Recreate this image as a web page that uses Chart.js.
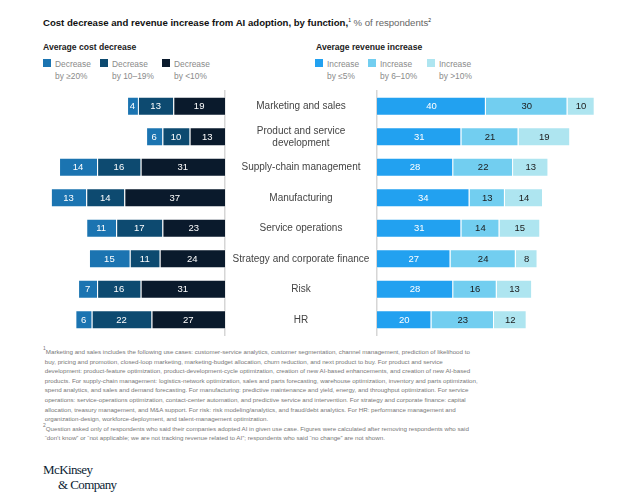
<!DOCTYPE html>
<html>
<head>
<meta charset="utf-8">
<script src="https://cdn.jsdelivr.net/npm/chart.js@4.4.0/dist/chart.umd.min.js"></script>
<style>
  body { margin: 0; width: 628px; height: 499px; background: #fff; position: relative; overflow: hidden;
         font-family: "Liberation Sans", Arial, sans-serif; color: #222; }
  .abs { position: absolute; }
  #title { left: 43px; top: 17px; font-size: 9.6px; white-space: nowrap; }
  #title b { color: #111; }
  #title span { color: #666; }
  sup { font-size: 5px; vertical-align: 4px; line-height: 0; }
  .head { top: 42px; font-size: 8.6px; font-weight: bold; color: #222; white-space: nowrap; }
  .leg { top: 58px; font-size: 8.4px; line-height: 12px; color: #8a8a8a; }
  .leg i { position: absolute; left: 0; top: 1px; width: 8px; height: 8px; }
  .leg div { margin-left: 12px; }
  #notes { left: 43px; top: 347px; font-size: 6.2px; line-height: 9.6px; color: #777; white-space: nowrap; }
  #logo { left: 43px; top: 462px; font-family: "Liberation Serif", "DejaVu Serif", serif; color: #0b1d33;
          font-size: 13px; line-height: 15px; letter-spacing: -0.6px; }
</style>
</head>
<body>
<div id="title" class="abs"><b>Cost decrease and revenue increase from AI adoption, by function,</b><sup>1</sup><span> % of respondents</span><sup>2</sup></div>
<div class="abs head" style="left:43px">Average cost decrease</div>
<div class="abs head" style="left:316px">Average revenue increase</div>
<div id="legends"></div>

<div class="abs" style="left:40px; top:86px; width:337px; height:254px;"><canvas id="costChart"></canvas></div>
<div class="abs" style="left:370px; top:86px; width:250px; height:254px;"><canvas id="revChart"></canvas></div>

<div id="notes" class="abs">
<sup>1</sup>Marketing and sales includes the following use cases: customer-service analytics, customer segmentation, channel management, prediction of likelihood to<br>
&nbsp;buy, pricing and promotion, closed-loop marketing, marketing-budget allocation, churn reduction, and next product to buy. For product and service<br>
&nbsp;development: product-feature optimization, product-development-cycle optimization, creation of new AI-based enhancements, and creation of new AI-based<br>
&nbsp;products. For supply-chain management: logistics-network optimization, sales and parts forecasting, warehouse optimization, inventory and parts optimization,<br>
&nbsp;spend analytics, and sales and demand forecasting. For manufacturing: predictive maintenance and yield, energy, and throughput optimization. For service<br>
&nbsp;operations: service-operations optimization, contact-center automation, and predictive service and intervention. For strategy and corporate finance: capital<br>
&nbsp;allocation, treasury management, and M&amp;A support. For risk: risk modeling/analytics, and fraud/debt analytics. For HR: performance management and<br>
&nbsp;organization-design, workforce-deployment, and talent-management optimization.<br>
<sup>2</sup>Question asked only of respondents who said their companies adopted AI in given use case. Figures were calculated after removing respondents who said<br>
&nbsp;“don’t know” or “not applicable; we are not tracking revenue related to AI”; respondents who said “no change” are not shown.
</div>
<div id="logo" class="abs">McKinsey<br><span style="margin-left:15px">&amp; Company</span></div>

<script>
// functions (category axis), multi-line where the picture wraps
const functions = [
    ['Marketing and sales'],
    ['Product and service', 'development'],
    ['Supply-chain management'],
    ['Manufacturing'],
    ['Service operations'],
    ['Strategy and corporate finance'],
    ['Risk'],
    ['HR']
];

// average cost decrease, % of respondents
const costAtLeast20 = [4, 6, 14, 13, 11, 15, 7, 6];
const cost10to19 = [13, 10, 16, 14, 17, 11, 16, 22];
const costUnder10 = [19, 13, 31, 37, 23, 24, 31, 27];

// average revenue increase, % of respondents
const revUpTo5 = [40, 31, 28, 34, 31, 27, 28, 20];
const rev6to10 = [30, 21, 22, 13, 14, 24, 16, 23];
const revOver10 = [10, 19, 13, 14, 15, 8, 13, 12];

const costNames = [['Decrease', 'by ≥20%'], ['Decrease', 'by 10–19%'], ['Decrease', 'by <10%']];
const revNames = [['Increase', 'by ≤5%'], ['Increase', 'by 6–10%'], ['Increase', 'by >10%']];

const costColors = ['#1b74b1', '#0d4a70', '#0a1a2c'];
const revColors = ['#22a1f0', '#72cef0', '#aee5f0'];

const FONT = '"Liberation Sans", Arial, sans-serif';

// legends (html, two lines each)
function addLegend(names, colors, xs) {
    const holder = document.getElementById('legends');
    names.forEach((n, i) => {
        const d = document.createElement('div');
        d.className = 'abs leg';
        d.style.left = xs[i] + 'px';
        d.innerHTML = '<i style="background:' + colors[i] + '"></i><div>' + n.join('<br>') + '</div>';
        holder.appendChild(d);
    });
}
addLegend(costNames, costColors, [43, 100, 162]);
addLegend(revNames, revColors, [315, 368, 427]);

// value labels in the middle of each bar segment
const barValues = {
    id: 'barValues',
    afterDatasetsDraw(chart) {
        const ctx = chart.ctx;
        ctx.save();
        ctx.font = '9.5px ' + FONT;
        ctx.textAlign = 'center';
        ctx.textBaseline = 'middle';
        chart.data.datasets.forEach((ds, i) => {
            chart.getDatasetMeta(i).data.forEach((bar, j) => {
                const p = bar.getProps(['x', 'y', 'base'], true);
                ctx.fillStyle = ds.valueColor;
                ctx.fillText(ds.data[j], (p.x + p.base) / 2, p.y + 0.5);
            });
        });
        ctx.restore();
    }
};

// centre the category labels between the two charts
const labelFont = '10px ' + FONT;
const measure = document.createElement('canvas').getContext('2d');
measure.font = labelFont;
let widest = 0;
functions.forEach(f => f.forEach(line => { widest = Math.max(widest, measure.measureText(line).width); }));
const labelPadding = 76 - widest / 2;

function barSet(label, data, color, valueColor) {
    return {
        label: label,
        data: data,
        backgroundColor: color,
        borderColor: 'rgba(255,255,255,0.55)',
        borderWidth: 1,
        valueColor: valueColor,
        categoryPercentage: 1,
        barPercentage: 0.62
    };
}

Chart.defaults.font.family = FONT;
Chart.defaults.animation = false;

new Chart(document.getElementById('costChart'), {
    type: 'bar',
    data: {
        labels: functions,
        datasets: [
            barSet(costNames[2].join(' '), costUnder10, costColors[2], '#fff'),
            barSet(costNames[1].join(' '), cost10to19, costColors[1], '#fff'),
            barSet(costNames[0].join(' '), costAtLeast20, costColors[0], '#fff')
        ]
    },
    options: {
        indexAxis: 'y',
        responsive: true,
        maintainAspectRatio: false,
        layout: { padding: { top: 5, bottom: 5 } },
        plugins: { legend: { display: false }, tooltip: { enabled: false } },
        scales: {
            x: { stacked: true, reverse: true, min: 0, max: 68, display: false },
            y: {
                stacked: true,
                position: 'right',
                afterFit: s => { s.width = 152; s.paddingTop = 0; s.paddingBottom = 0; },
                grid: { display: false, drawTicks: false },
                border: { display: true, color: '#d6d6d6', width: 1.5 },
                ticks: { crossAlign: 'center', padding: labelPadding, color: '#444', font: { size: 10 } }
            }
        }
    },
    plugins: [barValues]
});

new Chart(document.getElementById('revChart'), {
    type: 'bar',
    data: {
        labels: functions,
        datasets: [
            barSet(revNames[0].join(' '), revUpTo5, revColors[0], '#fff'),
            barSet(revNames[1].join(' '), rev6to10, revColors[1], '#1a1a1a'),
            barSet(revNames[2].join(' '), revOver10, revColors[2], '#1a1a1a')
        ]
    },
    options: {
        indexAxis: 'y',
        responsive: true,
        maintainAspectRatio: false,
        layout: { padding: { top: 5, bottom: 5, left: 7 } },
        plugins: { legend: { display: false }, tooltip: { enabled: false } },
        scales: {
            x: { stacked: true, min: 0, max: 89.3, display: false },
            y: {
                stacked: true,
                afterFit: s => { s.width = 0; },
                grid: { display: false, drawTicks: false },
                border: { display: true, color: '#d6d6d6', width: 1.5 },
                ticks: { display: false }
            }
        }
    },
    plugins: [barValues]
});
</script>
</body>
</html>
